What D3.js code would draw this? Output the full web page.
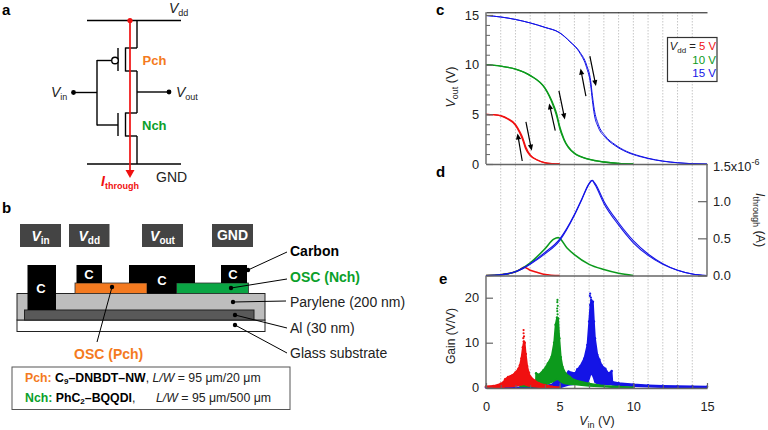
<!DOCTYPE html>
<html>
<head>
<meta charset="utf-8">
<script src="https://cdn.jsdelivr.net/npm/d3@7"></script>
<style>
    html, body { margin: 0; padding: 0; background: #fff; }
    svg { display: block; }
    text { font-family: "Liberation Sans", Arial, sans-serif; fill: #222; }
    .tick text { font-size: 12.8px; fill: #222; }
</style>
</head>
<body>
<svg id="chart" width="768" height="430"></svg>
<script>
// panel c: transfer curves, Vin (V) against Vout (V), forward and back sweep
const vin5 = [0, 0.5, 1, 1.5, 2, 2.3, 2.5, 2.7, 3, 3.5, 4, 4.5, 5];
const vout5 = [5, 4.97, 4.85, 4.5, 3.9, 3.1, 2.4, 1.5, 0.85, 0.38, 0.12, 0.03, 0];
const vout5Back = [5, 4.97, 4.86, 4.55, 4, 3.25, 2.6, 1.7, 0.92, 0.4, 0.13, 0.03, 0];

const vin10 = [0, 1, 2, 3, 4, 4.3, 4.6, 4.8, 5, 5.3, 6, 7, 8, 9, 10];
const vout10 = [10, 9.85, 9.55, 8.9, 7.6, 6.8, 5.7, 4.8, 3.6, 2.4, 1.05, 0.47, 0.2, 0.05, 0];
const vout10Back = [10, 9.85, 9.56, 8.92, 7.66, 6.9, 5.9, 5.05, 3.8, 2.5, 1.1, 0.49, 0.2, 0.05, 0];

const vin15 = [0, 1, 2, 3, 4, 5, 5.7, 6.38, 6.83, 7.1, 7.22, 7.35, 7.62, 8.08, 8.76, 9.55, 10.45, 11, 12, 13, 14, 15];
const vout15 = [14.95, 14.8, 14.55, 14.2, 13.75, 13.2, 12.3, 11.15, 9.7, 8, 6.4, 5, 3.7, 2.7, 1.85, 1.2, 0.75, 0.55, 0.28, 0.12, 0.03, 0];
const vout15Back = [14.95, 14.8, 14.55, 14.2, 13.76, 13.22, 12.33, 11.25, 9.95, 8.4, 6.9, 5.5, 4, 2.85, 1.95, 1.27, 0.8, 0.58, 0.3, 0.13, 0.03, 0];

// panel d: through current in uA
const itVin5 = [0, 1, 2, 2.3, 2.6, 3, 3.5, 4, 5];
const it5 = [0, 0.01, 0.05, 0.08, 0.11, 0.07, 0.04, 0.015, 0];

const itVin10 = [0, 1, 2, 3, 4, 4.6, 4.9, 5.5, 6, 7, 8, 9, 10];
const it10 = [0, 0.01, 0.05, 0.17, 0.36, 0.49, 0.51, 0.37, 0.28, 0.15, 0.08, 0.03, 0];

const itVin15 = [0, 1, 2, 2.5, 3, 4, 5, 6, 6.5, 7, 7.2, 7.4, 8, 9, 10, 11, 12, 13, 14, 15];
const it15 = [0, 0.01, 0.05, 0.1, 0.16, 0.31, 0.49, 0.82, 1.03, 1.24, 1.28, 1.22, 0.97, 0.68, 0.44, 0.27, 0.15, 0.07, 0.02, 0];
const it15Back = [0, 0.01, 0.05, 0.09, 0.15, 0.29, 0.47, 0.81, 1.02, 1.23, 1.28, 1.24, 1.0, 0.71, 0.47, 0.29, 0.16, 0.07, 0.02, 0];

// panel e: gain cloud read as upper and lower edges, plus the lone points above each peak
const gainVin5 = [0, 0.5, 1, 1.2, 1.3, 1.5, 1.8, 2, 2.2, 2.3, 2.4, 2.5, 2.57, 2.63, 2.7, 2.8, 2.9, 3, 3.3, 3.6, 4, 4.5, 5];
const gainTop5 = [0.3, 0.4, 0.9, 1.3, 1.9, 2.4, 2.8, 3.4, 4.2, 5, 6.5, 9, 10.3, 10, 7.5, 4.8, 3.4, 2.5, 1.6, 1, 0.6, 0.25, 0.1];
const gainLow5 = [0, 0, 0.1, 0.1, 0.2, 0.2, 0.3, 0.4, 0.5, 0.6, 0.6, 0.7, 0.7, 0.7, 0.6, 0.5, 0.4, 0.4, 0.2, 0.1, 0, 0, 0];
const gainPeakVin5 = [2.55, 2.55, 2.58, 2.53];
const gainPeak5 = [12.8, 12.1, 11.4, 11];

const gainVin10 = [2.3, 3, 3.38, 3.4, 3.6, 3.9, 4.2, 4.45, 4.62, 4.72, 4.82, 4.9, 4.98, 5.08, 5.2, 5.4, 5.7, 6, 7, 8, 9, 10];
const gainTop10 = [0.8, 0.8, 0.9, 3.2, 2.9, 3.9, 5.4, 6.9, 10, 14, 15.6, 15.4, 11, 6.8, 4.6, 3.2, 2.4, 1.7, 0.95, 0.45, 0.25, 0.1];
const gainLow10 = [0.3, 0.2, 0.2, 0.3, 0.4, 0.6, 0.9, 1.2, 1.5, 1.7, 1.8, 1.9, 1.6, 1.3, 1.1, 0.9, 0.8, 0.7, 0.4, 0.2, 0, 0];
const gainPeakVin10 = [4.85, 4.84, 4.87, 4.83, 4.84, 4.86];
const gainPeak10 = [19.5, 19, 18.2, 17.6, 17, 16.3];

const gainVin15 = [0, 3, 4.5, 4.96, 5.1, 5.3, 5.6, 6.04, 6.2, 6.38, 6.67, 6.88, 7, 7.08, 7.14, 7.26, 7.33, 7.4, 7.56, 7.7, 7.85, 8.1, 8.3, 8.53, 8.58, 9, 10, 11, 12, 13, 14, 15];
const gainTop15 = [0.08, 0.1, 0.7, 2.8, 1.6, 2.4, 3.6, 3.2, 4.1, 4.7, 6.5, 9.5, 14.7, 18.4, 19.5, 19.1, 14.7, 11, 7.3, 6.2, 5, 4.2, 3.2, 3.7, 1.3, 1.05, 0.75, 0.55, 0.42, 0.35, 0.3, 0.25];
const gainLow15 = [0, 0, 0.1, 0, 0.1, 0.3, 0.6, 0.8, 0.9, 0.9, 0.9, 0.9, 2, 2.8, 3.3, 2.6, 2, 1.2, 0.9, 0.8, 0.8, 0.8, 0.7, 0.7, 0.6, 0.5, 0.35, 0.2, 0.1, 0.05, 0, 0];
const gainPeakVin15 = [7.07, 7.05, 7.12];
const gainPeak15 = [20.9, 20.4, 20];

const vinTicks = [0, 5, 10, 15];
const voutTicks = [0, 5, 10, 15];
const currentTicks = [0, 0.5, 1];
const gainTicks = [0, 10, 20];
const panelLabels = ['a', 'b', 'c', 'd', 'e'];

const RED = '#f01010';
const GREEN = '#0c9a1c';
const BLUE = '#1414e6';
const ORANGE = '#f47a20';
const NCH_GREEN = '#0aa02a';

const svg = d3.select('#chart');

// one text element out of [string, options] runs
function label(parent, x, y, parts, attrs = {}) {
    const t = parent.append('text').attr('x', x).attr('y', y);
    Object.keys(attrs).forEach(k => t.attr(k, attrs[k]));
    parts.forEach(p => {
        const run = typeof p === 'string' ? { s: p } : p;
        const span = t.append('tspan').text(run.s);
        if (run.i) span.attr('font-style', 'italic');
        if (run.b) span.attr('font-weight', 'bold');
        if (run.fill) span.style('fill', run.fill);
        if (run.sub) span.attr('font-size', run.sub).attr('dy', run.dy || 3);
        if (run.up) span.attr('dy', run.up);
    });
    return t;
}

function seg(parent, x1, y1, x2, y2, stroke = '#000', w = 1.4) {
    parent.append('line')
        .attr('x1', x1).attr('y1', y1).attr('x2', x2).attr('y2', y2)
        .attr('stroke', stroke).attr('stroke-width', w);
}

function dot(parent, x, y, r = 2, fill = '#000') {
    parent.append('circle').attr('cx', x).attr('cy', y).attr('r', r).attr('fill', fill);
}

function box(parent, x, y, w, h, fill, stroke = 'none', sw = 1) {
    parent.append('rect').attr('x', x).attr('y', y).attr('width', w).attr('height', h)
        .attr('fill', fill).attr('stroke', stroke).attr('stroke-width', sw);
}

// ---- panel letters
const letterPos = { a: [2, 15], b: [2, 213], c: [436, 15], d: [436, 177], e: [439, 284] };
panelLabels.forEach(l => {
    svg.append('text').attr('x', letterPos[l][0]).attr('y', letterPos[l][1])
        .attr('font-size', 15).attr('font-weight', 'bold').style('fill', '#000').text(l);
});

// ---- panel a: inverter schematic
const a = svg.append('g');
seg(a, 87, 20.5, 181, 20.5);
seg(a, 87, 164, 181, 164);
seg(a, 137, 20.5, 137, 48);
seg(a, 137, 48, 125.5, 48);
seg(a, 125.5, 47.5, 125.5, 71.5);
seg(a, 125.5, 71, 137, 71);
seg(a, 137, 71, 137, 113);
seg(a, 137, 113, 125.5, 113);
seg(a, 125.5, 112.5, 125.5, 136.5);
seg(a, 125.5, 136, 137, 136);
seg(a, 137, 136, 137, 164);
seg(a, 118, 48, 118, 71);
seg(a, 118, 113, 118, 136);
seg(a, 97, 60.5, 111, 60.5);
seg(a, 97, 60, 97, 125.5);
seg(a, 97, 125, 118, 125);
seg(a, 73.5, 92.5, 97, 92.5);
seg(a, 137, 92, 169, 92);
dot(a, 73.5, 92.5, 2.4);
dot(a, 169, 92, 2.4);
a.append('circle').attr('cx', 115).attr('cy', 60.5).attr('r', 3.3)
    .attr('fill', '#fff').attr('stroke', '#000').attr('stroke-width', 1.4);
seg(a, 130, 20.5, 130, 171, RED, 1.7);
dot(a, 130, 20.5, 2.6, RED);
a.append('path').attr('d', 'M125.5,170 L134.5,170 L130,178 Z').attr('fill', RED);
label(a, 169, 13, [{ s: 'V', i: 1 }, { s: 'dd', sub: 9 }], { 'font-size': 14 });
label(a, 156, 182, ['GND'], { 'font-size': 14 });
label(a, 51, 97, [{ s: 'V', i: 1 }, { s: 'in', sub: 9 }], { 'font-size': 14 });
label(a, 176, 97, [{ s: 'V', i: 1 }, { s: 'out', sub: 9 }], { 'font-size': 14 });
label(a, 142.5, 65, [{ s: 'Pch', b: 1, fill: ORANGE }], { 'font-size': 13 });
label(a, 142, 130, [{ s: 'Nch', b: 1, fill: NCH_GREEN }], { 'font-size': 13 });
label(a, 101, 186, [{ s: 'I', b: 1, i: 1, fill: RED }, { s: 'through', b: 1, fill: RED, sub: 9 }], { 'font-size': 14 });

// ---- panel b: device cross section
const b = svg.append('g');
[['in', 20, 41], ['dd', 69, 40.5], ['out', 142, 41]].forEach(([s, x, w]) => {
    box(b, x, 224, w, 23, '#444');
    label(b, x + w / 2, 240.5, [{ s: 'V', i: 1, b: 1, fill: '#fff' }, { s: s, b: 1, sub: 10, fill: '#fff' }],
        { 'font-size': 14, 'text-anchor': 'middle' });
});
box(b, 212, 224, 41, 23, '#444');
label(b, 232.5, 240, [{ s: 'GND', b: 1, fill: '#fff' }], { 'font-size': 14, 'text-anchor': 'middle' });

box(b, 17, 320, 248, 11.5, '#fff', '#222', 1);
box(b, 17, 293.5, 248, 26.5, '#bdbdbd', '#222', 1);
box(b, 24.5, 310, 229.5, 10, '#595959', '#222', 1);
box(b, 75, 283, 72, 10.5, ORANGE, '#333', 0.8);
box(b, 176.5, 283, 72, 10.5, '#0aa544', '#333', 0.8);
box(b, 27.5, 265, 28.5, 45, '#000');
box(b, 76.5, 265, 25.5, 18, '#000');
box(b, 129, 265, 66, 18, '#000');
box(b, 147, 283, 29.5, 10.5, '#000');
box(b, 221, 265, 26, 18, '#000');
[[41, 293], [89, 279], [162, 285], [233, 279]].forEach(([x, y]) => {
    label(b, x, y, [{ s: 'C', b: 1, fill: '#fff' }], { 'font-size': 13, 'text-anchor': 'middle' });
});

seg(b, 248, 270, 287, 252, '#000', 1);
dot(b, 248, 270, 2.2);
seg(b, 231, 288, 287, 279, '#000', 1);
dot(b, 231, 288, 2.2);
seg(b, 233, 302, 286, 301, '#000', 1);
dot(b, 233, 302, 2.2);
seg(b, 235, 315, 287, 328, '#000', 1);
dot(b, 235, 315, 2.2);
seg(b, 235, 325, 287, 353, '#000', 1);
dot(b, 235, 325, 2.2);
seg(b, 112, 287, 97, 342, '#000', 1);
dot(b, 112, 287, 2.2);

label(b, 290, 256, [{ s: 'Carbon', b: 1, fill: '#000' }], { 'font-size': 14 });
label(b, 290, 282, [{ s: 'OSC (Nch)', b: 1, fill: NCH_GREEN }], { 'font-size': 14 });
label(b, 290, 307, ['Parylene (200 nm)'], { 'font-size': 14 });
label(b, 290, 333, ['Al (30 nm)'], { 'font-size': 14 });
label(b, 290, 358, ['Glass substrate'], { 'font-size': 14 });
label(b, 74, 359, [{ s: 'OSC (Pch)', b: 1, fill: ORANGE }], { 'font-size': 14 });

box(b, 12, 367, 278, 42.5, '#fff', '#555', 1);
label(b, 25, 382, [
    { s: 'Pch: ', b: 1, fill: ORANGE },
    { s: 'C', b: 1, fill: '#000' }, { s: '9', b: 1, sub: 8, fill: '#000', dy: 2 },
    { s: '–DNBDT–NW', b: 1, fill: '#000', up: -2 }, ', ',
    { s: 'L/W', i: 1 }, ' = 95 μm/20 μm'
], { 'font-size': 12.3 });
label(b, 25, 402, [
    { s: 'Nch: ', b: 1, fill: NCH_GREEN },
    { s: 'PhC', b: 1, fill: '#000' }, { s: '2', b: 1, sub: 8, fill: '#000', dy: 2 },
    { s: '–BQQDI', b: 1, fill: '#000', up: -2 }, ',',
], { 'font-size': 12.3 });
label(b, 156, 402, [{ s: 'L/W', i: 1 }, ' = 95 μm/500 μm'], { 'font-size': 12.3 });

// ---- right hand panels share the Vin axis
const x = d3.scaleLinear().domain([0, 15]).range([486, 707]);
const yOut = d3.scaleLinear().domain([0, 15]).range([164, 15]);
const yCur = d3.scaleLinear().domain([0, 1.5]).range([275.5, 164]);
const yGain = d3.scaleLinear().domain([0, 20]).range([387.7, 297.7]);

const gridV = d3.range(1, 15);
svg.append('g').selectAll('line').data(gridV).enter().append('line')
    .attr('x1', d => x(d)).attr('x2', d => x(d))
    .attr('y1', 12).attr('y2', 388)
    .attr('stroke', '#c6c6c6').attr('stroke-width', 1).attr('stroke-dasharray', '1.5,1.5');

function curve(xs, ys, yScale, color, w = 1.3) {
    const line = d3.line()
        .x((d, i) => x(xs[i]))
        .y(d => yScale(d))
        .curve(d3.curveMonotoneX);
    svg.append('path').datum(ys).attr('d', line)
        .attr('fill', 'none').attr('stroke', color).attr('stroke-width', w);
}

// panel c curves
curve(vin5, vout5, yOut, RED);
curve(vin5, vout5Back, yOut, RED);
curve(vin10, vout10, yOut, GREEN);
curve(vin10, vout10Back, yOut, GREEN);
curve(vin15, vout15, yOut, BLUE, 1);
curve(vin15, vout15Back, yOut, BLUE, 1);

// panel d curves
curve(itVin5, it5, yCur, RED, 1.5);
curve(itVin10, it10, yCur, GREEN, 1.6);
curve(itVin15, it15, yCur, BLUE, 1.1);
curve(itVin15, it15Back, yCur, BLUE, 1.1);

// panel e gain clouds
function cloud(xs, top, low, peakX, peak, color) {
    const area = d3.area()
        .x((d, i) => x(xs[i]))
        .y0((d, i) => yGain(low[i]))
        .y1(d => yGain(d));
    svg.append('path').datum(top).attr('d', area)
        .attr('fill', color).attr('stroke', color).attr('stroke-width', 1.6)
        .attr('stroke-linejoin', 'round');
    svg.append('g').selectAll('circle').data(top).enter().append('circle')
        .attr('cx', (d, i) => x(xs[i]))
        .attr('cy', d => yGain(d))
        .attr('r', 1.2).attr('fill', color);
    svg.append('g').selectAll('circle').data(peak).enter().append('circle')
        .attr('cx', (d, i) => x(peakX[i]))
        .attr('cy', d => yGain(d))
        .attr('r', 1.1).attr('fill', color);
}
cloud(gainVin15, gainTop15, gainLow15, gainPeakVin15, gainPeak15, BLUE);
cloud(gainVin10, gainTop10, gainLow10, gainPeakVin10, gainPeak10, GREEN);
cloud(gainVin5, gainTop5, gainLow5, gainPeakVin5, gainPeak5, RED);

// hysteresis arrows, given in Vin / Vout units
const arrowTails = [[2.46, 0.3], [2.71, 4.25], [4.7, 3.35], [4.95, 7.37], [6.78, 6.83], [7.05, 10.85]];
const arrowHeads = [[2.14, 3.07], [3.1, 1.34], [4.29, 6.1], [5.35, 4.49], [6.42, 9.61], [7.46, 7.84]];
arrowTails.forEach((tail, i) => {
    const x1 = x(tail[0]), y1 = yOut(tail[1]);
    const x2 = x(arrowHeads[i][0]), y2 = yOut(arrowHeads[i][1]);
    const ang = Math.atan2(y2 - y1, x2 - x1);
    const ux = Math.cos(ang), uy = Math.sin(ang);
    seg(svg, x1, y1, x2 - ux * 4, y2 - uy * 4, '#000', 1.2);
    svg.append('path')
        .attr('d', `M${x2},${y2} L${x2 - ux * 6 - uy * 2.6},${y2 - uy * 6 + ux * 2.6} L${x2 - ux * 6 + uy * 2.6},${y2 - uy * 6 - ux * 2.6} Z`)
        .attr('fill', '#000');
});

// ---- axes
function styleAxis(g, color = '#666', w = 1.4) {
    g.select('.domain').attr('stroke', color).attr('stroke-width', w);
    g.selectAll('.tick line').attr('stroke', color).attr('stroke-width', 1.2);
}
function minorAxis(axisFn, scale, x0, y0, values, size) {
    const g = svg.append('g').attr('transform', `translate(${x0},${y0})`)
        .call(axisFn(scale).tickValues(values).tickSize(size).tickFormat(''));
    g.select('.domain').remove();
    g.selectAll('.tick line').attr('stroke', '#666').attr('stroke-width', 1);
}

// top border of panel c
svg.append('g').attr('transform', `translate(0,12.3)`)
    .call(d3.axisTop(x).tickValues([]).tickSizeOuter(0))
    .call(g => styleAxis(g, '#111', 1));

minorAxis(d3.axisLeft, yOut, 486, 0, d3.range(0, 16), -4);
const axOut = svg.append('g').attr('transform', 'translate(486,0)')
    .call(d3.axisLeft(yOut).tickValues(voutTicks).tickSize(-7).tickSizeOuter(0).tickPadding(7));
styleAxis(axOut);
axOut.select('.domain').attr('d', `M0,12.3V164`);

svg.append('g').attr('transform', 'translate(0,164)')
    .call(d3.axisBottom(x).tickValues([]).tickSizeOuter(0))
    .call(g => styleAxis(g));

const axCur = svg.append('g').attr('transform', 'translate(707,0)')
    .call(d3.axisRight(yCur).tickValues(currentTicks).tickSize(-9).tickSizeOuter(0).tickPadding(6)
        .tickFormat(d3.format('.1f')));
styleAxis(axCur);
axCur.select('.domain').attr('d', `M0,164V275.5`);
axCur.selectAll('.tick text').attr('x', 6);

label(svg, 713, 171, ['1.5x10', { s: '-6', sub: 9, dy: -6 }], { 'font-size': 12.8 });

svg.append('g').attr('transform', 'translate(0,275.5)')
    .call(d3.axisBottom(x).tickValues([]).tickSizeOuter(0))
    .call(g => styleAxis(g));

minorAxis(d3.axisBottom, x, 0, 388, d3.range(0, 16), -3);
const axVin = svg.append('g').attr('transform', 'translate(0,388)')
    .call(d3.axisBottom(x).tickValues(vinTicks).tickSize(-5).tickSizeOuter(0).tickPadding(8));
styleAxis(axVin);
axVin.selectAll('.tick text').attr('y', 14);

const axGain = svg.append('g').attr('transform', 'translate(486,0)')
    .call(d3.axisLeft(yGain).tickValues(gainTicks).tickSize(-7).tickSizeOuter(0).tickPadding(7));
styleAxis(axGain);
axGain.select('.domain').attr('d', `M0,275.5V388`);

// axis titles
label(svg, 0, 0, [{ s: 'V', i: 1 }, { s: 'out', sub: 9 }, { s: ' (V)', up: -3 }],
    { 'font-size': 12.5, 'text-anchor': 'middle', transform: 'translate(455,87) rotate(-90)' });
label(svg, 0, 0, ['Gain (V/V)'],
    { 'font-size': 12, 'text-anchor': 'middle', transform: 'translate(455,336) rotate(-90)' });
label(svg, 597, 425, [{ s: 'V', i: 1 }, { s: 'in', sub: 9 }, { s: ' (V)', up: -3 }],
    { 'font-size': 12.5, 'text-anchor': 'middle' });
label(svg, 0, 0, [{ s: 'I', i: 1 }, { s: 'through', sub: 9 }, { s: ' (A)', up: -3 }],
    { 'font-size': 12.5, 'text-anchor': 'middle', transform: 'translate(756,220) rotate(90)' });

// legend
box(svg, 667.5, 37.5, 49.5, 44, '#fff', '#333', 1.2);
label(svg, 716, 50, [{ s: 'V', i: 1 }, { s: 'dd', sub: 8 }, { s: ' = ', up: -3 }, { s: '5 V', fill: RED }],
    { 'font-size': 11.3, 'text-anchor': 'end' });
label(svg, 716, 64, [{ s: '10 V', fill: GREEN }], { 'font-size': 11.5, 'text-anchor': 'end' });
label(svg, 716, 77, [{ s: '15 V', fill: BLUE }], { 'font-size': 11.5, 'text-anchor': 'end' });
</script>
</body>
</html>
